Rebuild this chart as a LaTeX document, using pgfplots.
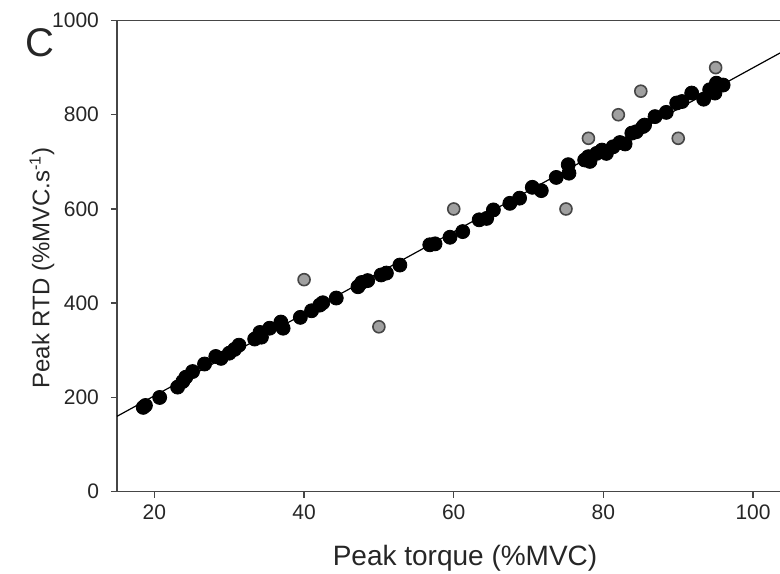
\documentclass[border=0pt]{standalone}
\usepackage{fontspec}
\setmainfont{Liberation Sans}
\usepackage{pgfplots}
\pgfplotsset{compat=1.18}
\definecolor{axisgray}{RGB}{70,70,70}
\definecolor{outgray}{RGB}{160,160,160}
\begin{document}
\begin{tikzpicture}
\begin{axis}[
  name=main,
  scale only axis,
  width=331.5pt, height=235.6pt,
  xmin=15, xmax=103.6, ymin=0, ymax=1000,
  axis x line=box, axis y line=left,
  axis line style={-, axisgray, line width=0.75pt},
  tick pos=left, tick align=outside,
  major tick length=3pt,
  tick style={axisgray, line width=0.75pt},
  xtick={20,40,60,80,100},
  ytick={0,200,400,600,800,1000},
  /pgf/number format/assume math mode=true,
  /pgf/number format/1000 sep={},
  tick label style={font=\fontsize{10.5}{12}\selectfont, text=black!85},
  yticklabel style={xshift=-2.5pt},
  xlabel={Peak torque (\%MVC)},
  ylabel={Peak RTD (\%MVC.s\textsuperscript{-1})},
  xlabel style={font=\fontsize{14}{16}\selectfont, text=black!85, at={(rel axis cs:0.525,0)}, anchor=center, yshift=-33.2pt},
  ylabel style={font=\fontsize{12}{14}\selectfont, text=black!85, at={(rel axis cs:0,0.475)}, anchor=center, yshift=37.5pt},
  clip=false,
]
\addplot[black, line width=0.6pt] coordinates {(15,160) (103.6,931)};
\addplot[only marks, mark=*, mark size=3.5pt, mark options={fill=black, draw=black}] coordinates {
(18.5,179) (18.8,183) (20.7,200) (23.1,222) (23.8,234) (24.2,243) (25.1,255)
(26.7,271) (28.2,287) (28.9,283) (30.0,294) (30.7,302) (31.3,311) (33.4,324)
(34.3,328) (34.1,338) (35.4,347) (36.9,360) (37.2,347) (39.5,370) (41.0,384)
(42.1,396) (42.5,401) (44.3,411) (47.2,435) (47.7,444) (48.5,448) (50.3,460)
(51.0,464) (52.8,481) (56.8,524) (57.5,526) (59.5,540) (61.2,552) (63.4,577)
(64.4,580) (65.3,598) (67.5,612) (68.8,623) (70.5,646) (71.7,639) (73.7,667)
(75.3,694) (75.4,676) (77.5,704) (78.0,711) (78.2,701) (79.1,718) (79.8,725)
(80.4,718) (81.3,732) (82.2,741) (82.9,738) (83.8,761) (84.4,764) (85.5,778)
(85.3,775) (86.9,796) (88.4,805) (89.8,825) (90.5,828) (91.8,846) (93.4,833)
(94.2,853) (95.1,867) (94.9,846) (96.0,863)
};
\addplot[only marks, mark=*, mark size=3pt, mark options={fill=outgray, draw=axisgray, line width=0.8pt}] coordinates {
(40,450) (50,350) (60,600) (75,600) (78,750) (82,800) (85,850) (90,750) (95,900)
};
\end{axis}
\node[font=\fontsize{20}{22}\selectfont, text=black!85] at ([xshift=-38.5pt,yshift=-11.25pt]main.north west) {C};
\pgfresetboundingbox
\path (-58.5pt,-40.65pt) rectangle (331.5pt,245.85pt);
\end{tikzpicture}
\end{document}
